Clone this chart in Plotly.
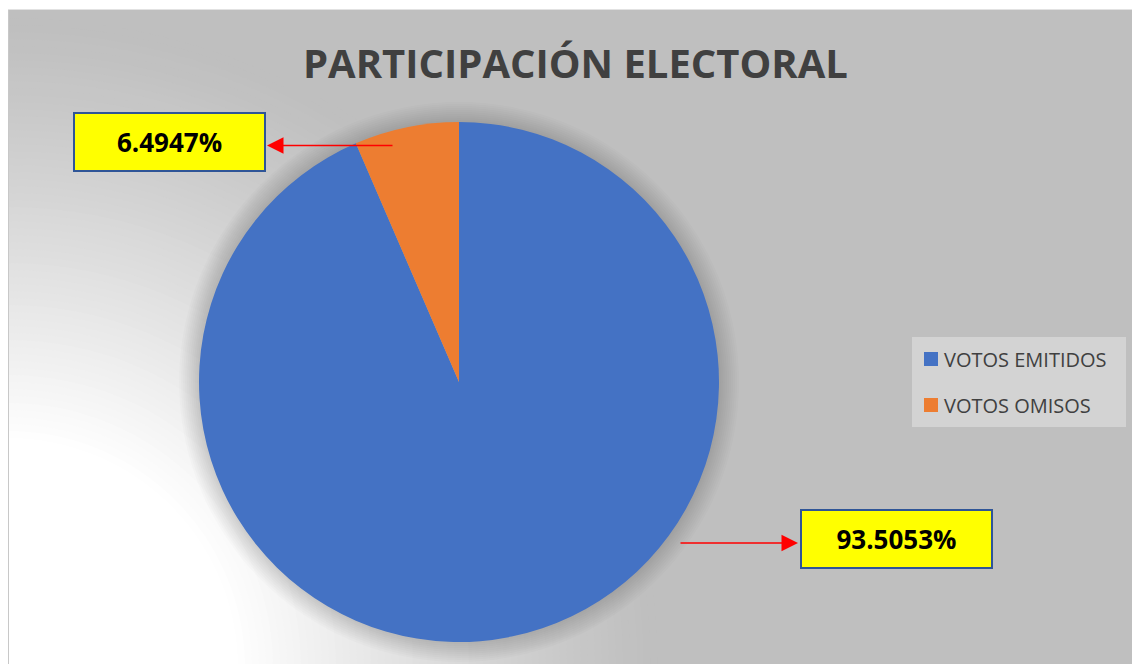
import plotly.graph_objects as go

# ---- data ----
labels = ["VOTOS EMITIDOS", "VOTOS OMISOS"]
values = [93.5053, 6.4947]
label_texts = ["93.5053%", "6.4947%"]
colors = ["#4472C4", "#ED7D31"]
title_text = "PARTICIPACIÓN ELECTORAL"

W, H = 1140, 664
OFF = 8  # page body margin offset


def px(x):
    return (x - OFF) / W


def py(y):
    return 1 - (y - OFF) / H


shapes = []
# gray chart area
shapes.append(dict(type="rect", xref="paper", yref="paper", x0=0, x1=1, y0=0, y1=1,
                   fillcolor="#BFBFBF", line=dict(width=0), layer="below"))
# radial white gradient from bottom-left corner (opaque rings, large to small)
cx, cy = 8, 668
r_out, r_in = 650, 230
n = 60
for k in range(0, n + 1):
    r = r_out - (r_out - r_in) * k / n
    f = ((r_out - r) / (r_out - r_in)) ** 1.2
    g = int(round(191 + (255 - 191) * f))
    shapes.append(dict(type="circle", xref="paper", yref="paper",
                       x0=px(cx - r), x1=px(cx + r), y0=py(cy + r), y1=py(cy - r),
                       fillcolor=f"rgb({g},{g},{g})", line=dict(width=0), layer="below"))
# borders
shapes.append(dict(type="rect", xref="paper", yref="paper", x0=0, x1=1, y0=py(9), y1=1,
                   fillcolor="white", line=dict(width=0), layer="below"))
shapes.append(dict(type="line", xref="paper", yref="paper", x0=px(8), x1=px(8), y0=0, y1=py(9),
                   line=dict(color="#C8C8C8", width=2), layer="below"))
shapes.append(dict(type="line", xref="paper", yref="paper", x0=0, x1=1, y0=py(9.5), y1=py(9.5),
                   line=dict(color="#E2E2E2", width=1), layer="below"))

# pie shadow
pcx, pcy, pr = 459, 382, 260
for k in range(10):
    r = pr + 20 - k * 2
    shapes.append(dict(type="circle", xref="paper", yref="paper",
                       x0=px(pcx - r), x1=px(pcx + r), y0=py(pcy + r), y1=py(pcy - r),
                       fillcolor="black", opacity=0.014, line=dict(width=0), layer="below"))

# legend box
lx0, ly0, lx1, ly1 = 912, 337, 1126, 427
shapes.append(dict(type="rect", xref="paper", yref="paper", x0=px(lx0), x1=px(lx1), y0=py(ly1), y1=py(ly0),
                   fillcolor="#D3D3D3", line=dict(width=0), layer="below"))

annotations = []
leg_rows = [359, 405]
for lab, col, yy in zip(labels, colors, leg_rows):
    shapes.append(dict(type="rect", xref="paper", yref="paper", x0=px(924), x1=px(938),
                       y0=py(yy + 7), y1=py(yy - 7), fillcolor=col, line=dict(width=0)))
    annotations.append(dict(text=lab, x=px(942), y=py(yy), xref="paper", yref="paper",
                            xanchor="left", yanchor="middle", showarrow=False,
                            font=dict(family="Open Sans", size=20, color="#404040")))

# data label boxes: (text, box center x, box center y, arrow head x, arrow tail x, arrow y)
boxes = [
    (label_texts[0], 896.5, 538.5, 798, 679, 543),
    (label_texts[1], 169.5, 142.5, 267, 394, 145.5),
]
for txt, bx, by, hx, tx, ay in boxes:
    annotations.append(dict(text="<b>" + txt + "</b>", x=px(bx), y=py(by), xref="paper", yref="paper",
                            xanchor="center", yanchor="middle", showarrow=False,
                            width=189, height=56, bgcolor="#FFFF00", bordercolor="#2F5597",
                            borderwidth=2, borderpad=0,
                            font=dict(family="Open Sans", size=26, color="black")))
    annotations.append(dict(text="", x=px(hx), y=py(ay), xref="paper", yref="paper",
                            ax=tx - hx, ay=0, showarrow=True, arrowhead=2, arrowsize=2.2,
                            arrowwidth=1.5, arrowcolor="#FF0000"))

annotations.append(dict(text="<b>" + title_text + "</b>", x=px(575), y=py(62), xref="paper", yref="paper",
                        xanchor="center", yanchor="middle", showarrow=False,
                        font=dict(family="Open Sans", size=40, color="#404040")))

fig = go.Figure(go.Pie(
    labels=labels, values=values, sort=False, direction="clockwise", rotation=0,
    marker=dict(colors=colors, line=dict(width=0)),
    textinfo="none", hoverinfo="label+percent", showlegend=False,
    domain=dict(x=[px(pcx - pr), px(pcx + pr)], y=[py(pcy + pr), py(pcy - pr)]),
))

fig.update_layout(
    width=W, height=H, margin=dict(l=0, r=0, t=0, b=0),
    paper_bgcolor="white", plot_bgcolor="white",
    shapes=shapes, annotations=annotations, showlegend=False,
)

fig.write_html("out.html")
